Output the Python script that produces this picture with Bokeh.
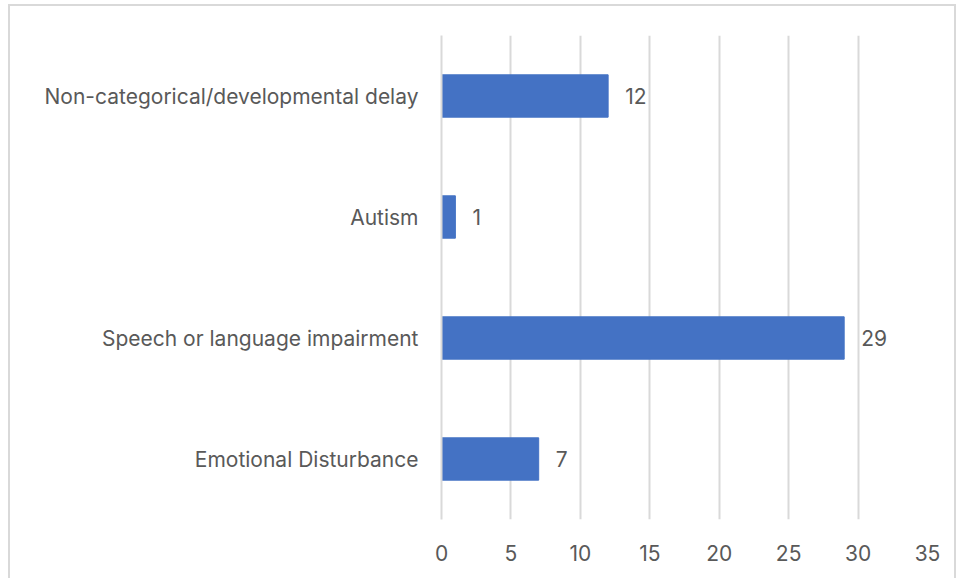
from bokeh.plotting import figure
from bokeh.models import ColumnDataSource, FactorRange, Range1d, FixedTicker, LabelSet
from bokeh.core.properties import value
from bokeh.embed import file_html
from bokeh.resources import INLINE

categories = ["Non-categorical/developmental delay", "Autism", "Speech or language impairment", "Emotional Disturbance"]
values = [12, 1, 29, 7]
ticks = [0, 5, 10, 15, 20, 25, 30, 35]

FONT = "Inter"
FS = "21px"
TXT = "#595959"

src = ColumnDataSource(dict(cat=categories, val=values, lbl=[str(v) for v in values]))

p = figure(width=948, height=576, output_backend="svg", toolbar_location=None,
           y_range=FactorRange(*list(reversed(categories)), range_padding=0),
           x_range=Range1d(0, 35))
p.outline_line_color = None
p.border_fill_color = "white"
p.background_fill_color = "white"

p.hbar(y="cat", right="val", left=0, height=0.35, source=src, color="#4472C4")

labels = LabelSet(x="val", y="cat", text="lbl", source=src, x_offset=17, y_offset=0,
                  text_baseline="middle", text_align="left", text_font_size=FS,
                  text_color=TXT, text_font=value(FONT))
p.add_layout(labels)

p.xaxis.ticker = FixedTicker(ticks=ticks)
p.xaxis.axis_line_color = None
p.xaxis.major_tick_line_color = None
p.xaxis.minor_tick_line_color = None
p.xaxis.major_label_standoff = 19
p.xaxis.major_label_text_font_size = FS
p.xaxis.major_label_text_color = TXT
p.xaxis.major_label_text_font = FONT

p.yaxis.axis_line_color = "#D9D9D9"
p.yaxis.axis_line_width = 2
p.yaxis.major_tick_line_color = None
p.yaxis.minor_tick_line_color = None
p.yaxis.major_label_standoff = 17
p.yaxis.major_label_text_font_size = FS
p.yaxis.major_label_text_color = TXT
p.yaxis.major_label_text_font = FONT

p.xgrid.grid_line_color = "#D9D9D9"
p.xgrid.grid_line_width = 2
p.ygrid.grid_line_color = None

p.min_border = 0
p.min_border_left = 431
p.min_border_right = 31
p.min_border_top = 29
p.min_border_bottom = 63
p.styles = {"border": "2px solid #D9D9D9", "margin-left": "8px", "margin-top": "4px"}

open("out.html", "w").write(file_html(p, INLINE))
